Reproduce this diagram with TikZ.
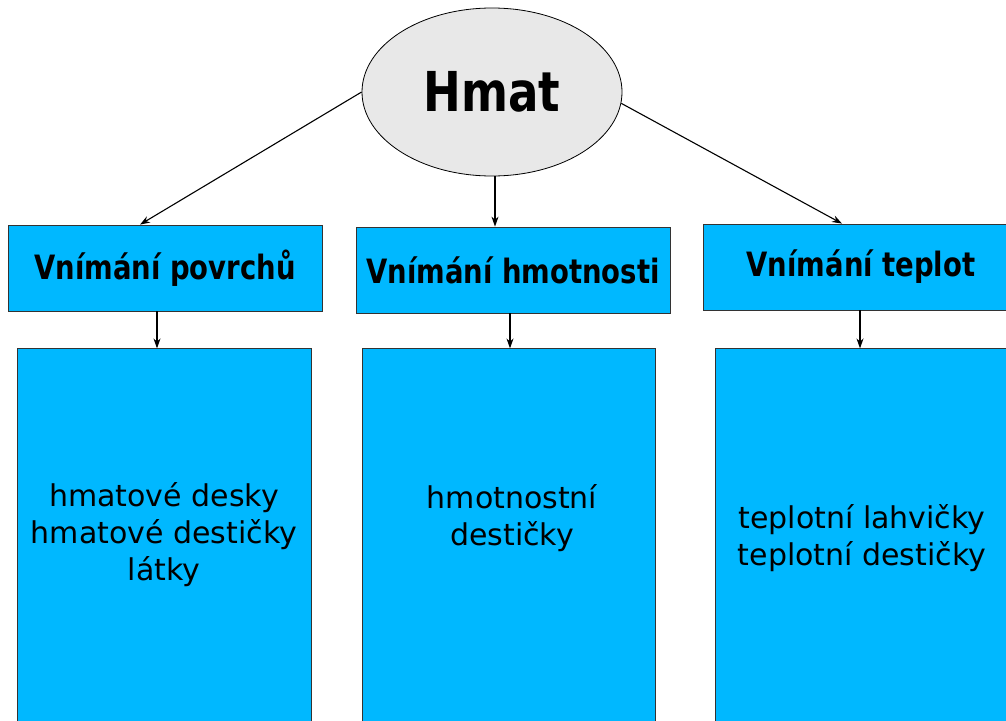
\documentclass[tikz,border=0pt]{standalone}
\usepackage{fontspec}
\setmainfont{DejaVu Sans}
\newfontfamily\headfont[FakeStretch=0.82]{DejaVu Sans Bold}
\usetikzlibrary{shapes.geometric, arrows.meta, positioning}
\definecolor{boxblue}{RGB}{0,184,255}
\definecolor{marble}{RGB}{232,232,232}

\begin{document}
\begin{tikzpicture}[x=1pt, y=-1pt,
	topic/.style={ellipse, draw=black, line width=0.8pt, fill=marble, inner sep=0pt, minimum width=260pt, minimum height=168pt, font=\headfont\fontsize{55}{60}\selectfont},
	sense/.style={rectangle, draw=black!80, line width=0.8pt, fill=boxblue, minimum height=86pt, font=\headfont\fontsize{33.5}{38}\selectfont},
	tools/.style={rectangle, draw=black!80, line width=0.8pt, fill=boxblue, minimum height=400pt},
	toolstext/.style={align=center, font=\fontsize{30}{37}\selectfont},
	link/.style={line width=1.1pt, -{Stealth[length=10pt, width=7pt]}}]
		\useasboundingbox (0,0) rectangle (1006,720);
		\clip (0,0) rectangle (1006,720);
		
		\node[topic] (hmat) at (492,92) {Hmat};
		
		\node[sense, minimum width=314pt] (A) at (165,268) {Vnímání povrchů};
		\node[sense, minimum width=314pt] (B) at (513,270) {Vnímání hmotnosti};
		\node[sense, minimum width=316pt] (C) at (861,267) {Vnímání teplot};
		
		\node[tools, minimum width=294pt, below=37pt of A, xshift=-1pt] (A1) {};
		\node[tools, minimum width=293pt, below=35pt of B, xshift=-4.5pt] (B1) {};
		\node[tools, minimum width=294pt, below=38pt of C, xshift=1pt] (C1) {};
		
		\node[toolstext] (A1t) at (164,535) {hmatové desky\\hmatové destičky\\látky};
		\node[toolstext] (B1t) at (512,518) {hmotnostní\\destičky};
		\node[toolstext] (C1t) at (862,538) {teplotní lahvičky\\teplotní destičky};
		
		\draw[link] (hmat.west) -- ([xshift=-25pt]A.north);
		\draw[link] ([xshift=3pt]hmat.south) -- ([xshift=-18pt]B.north);
		\draw[link] (hmat.-5) -- ([xshift=-19pt]C.north);
		
		\draw[link] ([xshift=-8pt]A.south) -- ([xshift=-8pt]A.south |- A1.north);
		\draw[link] ([xshift=-3pt]B.south) -- ([xshift=-3pt]B.south |- B1.north);
		\draw[link] ([xshift=-1pt]C.south) -- ([xshift=-1pt]C.south |- C1.north);

	\end{tikzpicture}
\end{document}
